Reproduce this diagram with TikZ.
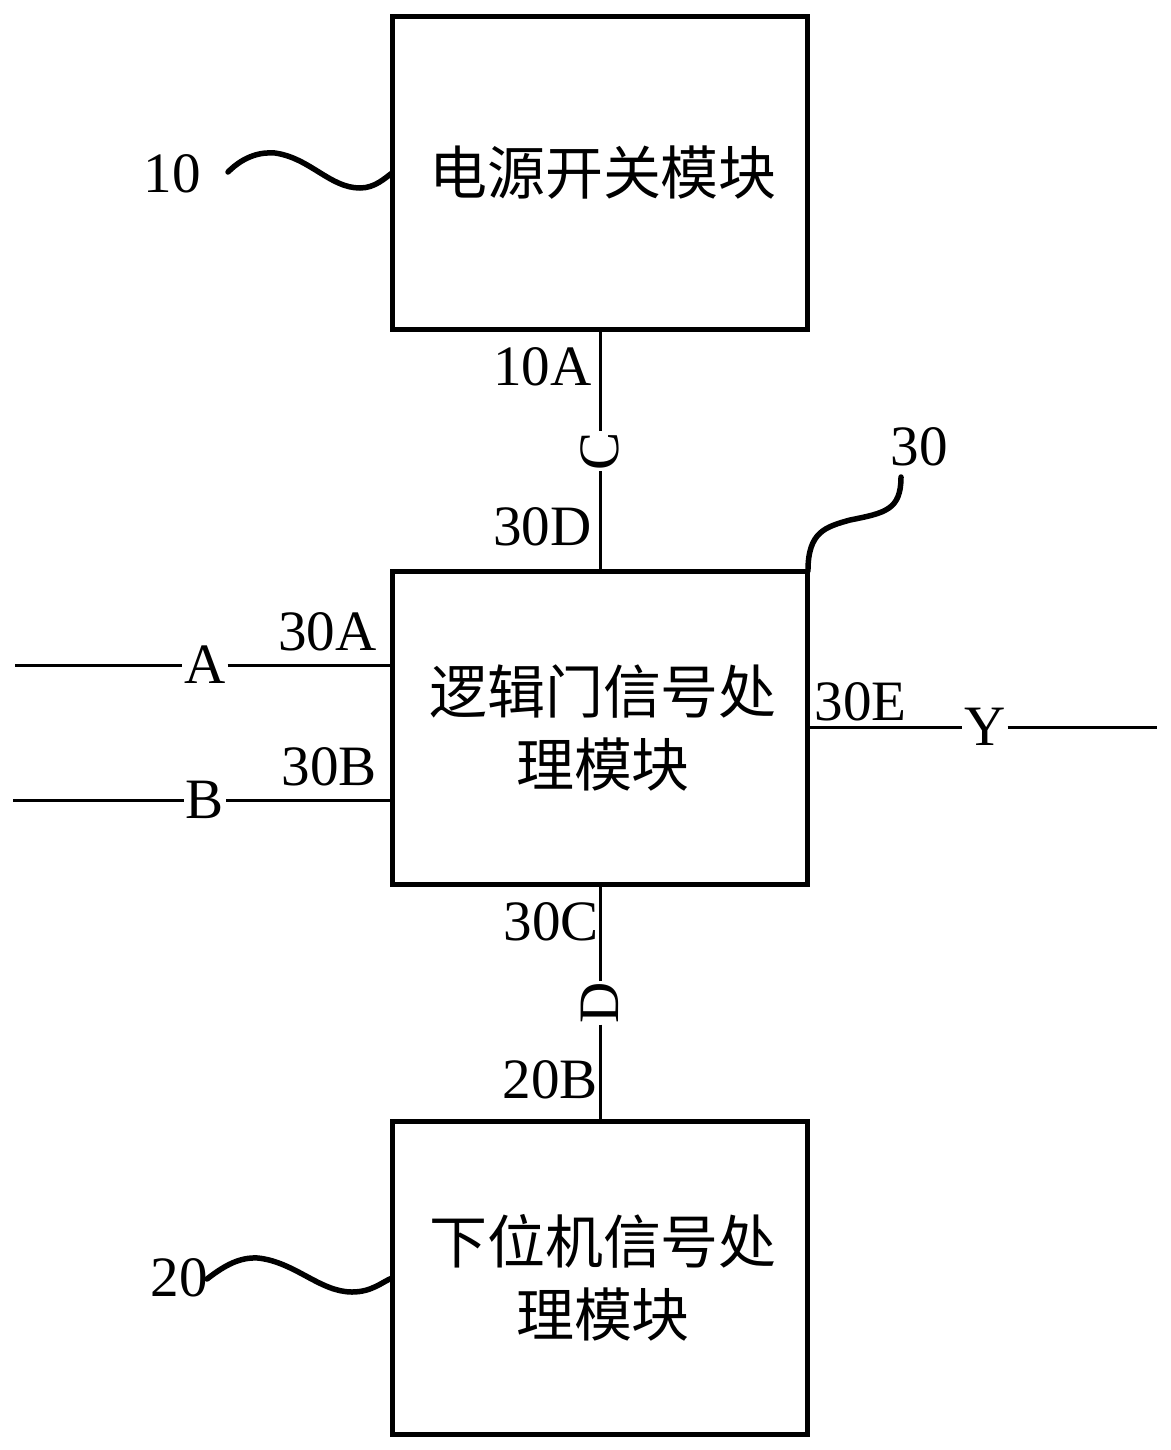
\documentclass[tikz,border=0pt]{standalone}
\usepackage{fontspec}
\setmainfont{Liberation Serif}
\newfontfamily\cjk{Noto Sans CJK SC}
\newcommand{\cjkpad}{\hspace*{0.12cm}}

\begin{document}
\begin{tikzpicture}[x=0.02cm, y=-0.02cm,
	blockbox/.style = {draw, line width=0.1cm, minimum width=8.32cm, minimum height=6.28cm, inner sep=0pt, outer sep=0pt, align=center, font=\cjk\fontsize{33}{41.5}\selectfont},
	sigline/.style = {line width=0.06cm},
	leader/.style = {line width=0.11cm, line cap=round},
	portlabel/.style = {anchor=base east, inner sep=0pt, font=\fontsize{32.5}{40}\selectfont},
	signame/.style = {inner sep=0.04cm, outer sep=0pt, font=\fontsize{32.5}{40}\selectfont}]
	\useasboundingbox (0,0) rectangle (1170,1450);
	
	% draw the three modules
	\node [blockbox] (power) at (600,173) {\cjkpad 电源开关模块};
	\node [blockbox] (logic) at (600,728) {\cjkpad 逻辑门信号处\\\cjkpad 理模块};
	\node [blockbox] (lower) at (600,1278) {\cjkpad 下位机信号处\\\cjkpad 理模块};
	
	% signal names on the lines
	\node [signame] (sigA) at (205,665) {A};
	\node [signame] (sigB) at (205,800) {B};
	\node [signame] (sigY) at (985,727) {Y};
	\node [signame, rotate=90, inner sep=0.02cm] (sigC) at (600,451) {C};
	\node [signame, rotate=90, inner sep=0.02cm] (sigD) at (600,1003) {D};
	
	% free ends
	\coordinate (inA) at (15,665);
	\coordinate (inB) at (13,800);
	\coordinate (outY) at (1157,727);
	\coordinate (tag10) at (228,172);
	\coordinate (tag20) at (207,1279);
	\coordinate (tag30) at (901,477);
	
	% draw connectors
	\draw [sigline] (power.south) -- (sigC.east);
	\draw [sigline] (sigC.west) -- (logic.north);
	\draw [sigline] (logic.south) -- (sigD.east);
	\draw [sigline] (sigD.west) -- (lower.north);
	\draw [sigline] (inA) -- (sigA);
	\draw [sigline] (sigA) -- (sigA -| logic.west);
	\draw [sigline] (inB) -- (sigB);
	\draw [sigline] (sigB) -- (sigB -| logic.west);
	\draw [sigline] (sigY -| logic.east) -- (sigY);
	\draw [sigline] (sigY) -- (outY);
	
	% write port labels
	\node [portlabel] (l10A) at (592,385) {10A};
	\node [portlabel] (l30D) at (592,545) {30D};
	\node [portlabel] (l30C) at (599,940) {30C};
	\node [portlabel] (l20B) at (598,1098) {20B};
	\node [portlabel] (l30A) at (377,650) {30A};
	\node [portlabel] (l30B) at (377,785) {30B};
	\node [portlabel] (l30E) at (907,720) {30E};
	\node [portlabel] (l10) at (201,192) {10};
	\node [portlabel] (l20) at (208,1296) {20};
	\node [portlabel] (l30) at (948,465) {30};
	
	% wavy leaders
	\draw [leader] (tag10) .. controls (245,155) and (262,152) .. (275,153) .. controls (310,158) and (330,188) .. (360,188) .. controls (375,188) and (385,178) .. (power.west);
	\draw [leader] (tag20) .. controls (225,1265) and (240,1257) .. (258,1258) .. controls (295,1262) and (320,1292) .. (352,1292) .. controls (372,1292) and (382,1282) .. (lower.west);
	\draw [leader] (logic.north east) .. controls (808,532) and (825,527) .. (850,520) .. controls (885,513) and (901,510) .. (tag30);
\end{tikzpicture}
\end{document}
